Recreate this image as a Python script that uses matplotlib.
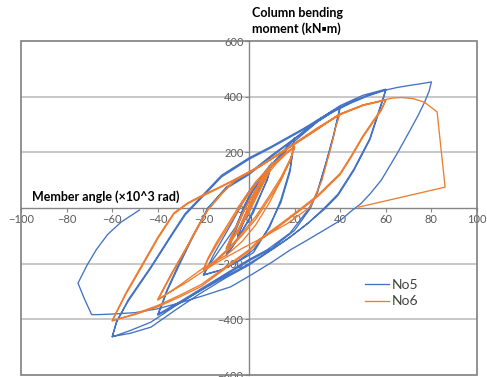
import matplotlib
matplotlib.use('Agg')
import matplotlib.pyplot as plt
from matplotlib.patches import Rectangle

plt.rcParams['font.family'] = ['Lato', 'DejaVu Sans']

# member angle (x10^3 rad) / column bending moment (kN*m), specimen No5
no5_x = [0, 3, 5, 3, 1, -2, -5, -3, -1, 2, 5, 3, 0, -3, -5, -2,
         0, 4, 7, 10, 8, 5, 2, -2, -6, -10, -8, -5, -2, 2, 6, 10, 8, 4, 0, -4, -7, -10, -7, -3,
         1, 8, 14, 20, 18, 14, 8, 2, -6, -13, -20,
         -17, -12, -6, 0, 8, 14, 20, 18, 14, 9, 2, -5, -12, -20,
         -15, -8, 0, 10, 20, 30, 40,
         39, 37, 34, 30, 27, 20, 10, 0, -10, -20, -30, -40,
         -38, -36, -31, -25, -18, -10, 0, 10, 20, 30, 40,
         39, 37, 34, 30, 26, 18, 8, 0, -10, -20, -30, -40,
         -38, -36, -31, -25, -18, -10, 0, 10, 20, 30, 40, 50, 60,
         59, 57, 53, 46, 39, 33, 26, 18, 11, 0, -10, -22, -32, -43, -52, -60,
         -58, -53, -43, -34, -28, -21, -12, 0, 10, 24, 36, 45, 52, 60,
         59, 57, 53, 46, 39, 33, 25, 17, 10, 0, -10, -22, -32, -43, -52, -60,
         -58, -53, -43, -34, -28, -21, -12, 0, 10, 24, 36, 45, 52, 60, 65, 70, 75, 80,
         79, 77, 74, 70, 65, 58, 53, 49, 45, 40, 33, 25, 18, 10, 0, -8, -20, -30, -40, -50, -60, -66, -69,
         -72, -75, -71, -67, -62, -56, -48]
no5_y = [0, 48, 85, 45, 0, -45, -100, -55, -10, 35, 88, 40, -5, -60, -102, -40,
         0, 60, 110, 160, 105, 45, -15, -70, -125, -172, -120, -55, 10, 70, 120, 162, 100, 30, -40, -95, -135, -170, -105, -25,
         54, 137, 195, 252, 130, 20, -79, -160, -198, -225, -241,
         -200, -140, -70, 40, 137, 192, 250, 140, 30, -70, -150, -192, -222, -240,
         -160, -60, 60, 150, 240, 310, 365,
         330, 260, 170, 60, 0, -80, -145, -190, -240, -290, -340, -385,
         -345, -300, -212, -110, 0, 70, 120, 185, 248, 310, 362,
         325, 255, 165, 55, -5, -90, -150, -185, -235, -285, -335, -382,
         -340, -295, -205, -105, 0, 75, 125, 190, 250, 315, 368, 405, 427,
         400, 350, 250, 140, 50, 0, -54, -105, -144, -200, -245, -300, -350, -410, -440, -463,
         -410, -330, -211, -95, -20, 40, 118, 180, 222, 286, 346, 382, 405, 425,
         395, 345, 245, 135, 45, -5, -60, -110, -150, -205, -250, -310, -365, -428, -450, -462,
         -405, -335, -215, -100, -25, 35, 112, 175, 218, 282, 342, 378, 402, 424, 433, 440, 446, 453,
         420, 380, 330, 270, 196, 100, 50, 15, -10, -45, -79, -118, -151, -195, -245, -283, -315, -340, -362, -376, -381, -383, -383,
         -330, -270, -205, -150, -95, -50, -7]

# specimen No6
no6_x = [0, 3, 5, 3, 0, -3, -5, -3, 0, 3, 5, 2, 0, -3, -5, -2,
         0, 5, 10, 8, 4, 0, -5, -10, -8, -4, 0, 5, 10, 7, 3, 0, -5, -10, -7, -3,
         0, 6, 12, 17, 20, 18, 14, 9, 3, -3, -9, -15, -20,
         -18, -14, -9, -3, 3, 10, 16, 20, 18, 14, 9, 3, -3, -9, -15, -20,
         -18, -14, -9, -3, 3, 10, 16, 20, 18, 14, 9, 3, -3, -10, -20, -30, -40,
         -34, -27, -22, -18, -12, -6, 5, 18, 30, 40,
         38, 36, 32, 27, 17, 4, -3, -15, -28, -40,
         -34, -27, -22, -18, -12, -6, 5, 18, 30, 40, 50, 60,
         58, 55, 50, 45, 40, 30, 23, 15, 5, 0, -10, -21, -30, -40, -50, -60,
         -54, -47, -40, -33, -27, -21, -13, -6, 5, 18, 30, 40, 50, 60,
         58, 55, 50, 45, 40, 30, 23, 15, 5, 0, -10, -21, -30, -40, -50, -60,
         -54, -47, -40, -33, -27, -21, -13, -6, 5, 18, 30, 40, 50, 60, 63, 67, 72, 77, 82.5, 86, 48]
no6_y = [0, 55, 95, 50, -5, -55, -92, -45, 5, 58, 98, 40, 0, -52, -90, -35,
         10, 85, 158, 115, 50, -15, -85, -148, -105, -40, 25, 95, 160, 105, 40, -10, -80, -145, -95, -25,
         25, 100, 160, 200, 219, 175, 110, 45, -30, -90, -145, -190, -222,
         -185, -130, -65, 15, 85, 150, 195, 218, 170, 100, 35, -40, -98, -150, -195, -220,
         -180, -120, -55, 25, 95, 155, 198, 220, 170, 100, 20, -60, -120, -170, -215, -275, -331,
         -240, -139, -65, -7, 50, 100, 150, 218, 282, 340,
         290, 220, 100, 5, -55, -115, -145, -200, -270, -328,
         -235, -135, -60, -5, 52, 102, 152, 220, 285, 338, 370, 388,
         355, 320, 260, 190, 125, 45, 0, -50, -110, -150, -210, -275, -312, -350, -380, -406,
         -310, -211, -110, -22, 15, 40, 72, 101, 150, 220, 285, 335, 368, 388,
         350, 315, 255, 185, 120, 40, -5, -55, -115, -155, -215, -282, -318, -355, -383, -404,
         -305, -205, -105, -18, 18, 44, 75, 104, 152, 222, 288, 338, 370, 390, 395, 397, 393, 380, 345, 75, 3]

fig = plt.figure(figsize=(4.87, 3.77), dpi=100)
ax = fig.add_axes([0.0431, 0.0053, 0.9364, 0.8859])

ax.plot(no5_x, no5_y, color='#4472C4', lw=0.95, label='No5', zorder=3)
ax.plot(no6_x, no6_y, color='#ED7D31', lw=0.95, label='No6', zorder=3)

ax.set_xlim(-100, 100)
ax.set_ylim(-600, 600)
ax.set_xticks(range(-100, 101, 20))
ax.set_yticks(range(-600, 601, 200))
for yv in (-400, -200, 200, 400):
    ax.axhline(yv, color='#BFBFBF', lw=1.2, zorder=1)

# axes cross at the origin, frame drawn as a box round the plot area
ax.spines['left'].set_position(('data', 0))
ax.spines['bottom'].set_position(('data', 0))
ax.spines['right'].set_visible(False)
ax.spines['top'].set_visible(False)
for s in ('left', 'bottom'):
    ax.spines[s].set_color('#868686')
    ax.spines[s].set_linewidth(1.0)
ax.add_patch(Rectangle((0, 0), 1, 1, transform=ax.transAxes, fill=False,
                       edgecolor='#7F7F7F', lw=1.2, zorder=4, clip_on=False))
ax.tick_params(axis='both', length=3, color='#868686', labelsize=8, labelcolor='#595959', pad=1)
ax.tick_params(axis='x', direction='out')
ax.tick_params(axis='y', direction='out')

fig.text(0.517, 0.982, 'Column bending\nmoment (kN\u25aam)', ha='left', va='top',
         fontsize=9, fontweight='bold', color='black', linespacing=1.3)
ax.text(-95, 40, 'Member angle (\u00d710^3 rad)', ha='left', va='center',
        fontsize=9, fontweight='bold', color='black')

ax.legend(loc='lower left', bbox_to_anchor=(0.727, 0.165), frameon=False, fontsize=10,
          handlelength=1.7, handletextpad=0.2, labelspacing=0.35, labelcolor='#404040')

fig.savefig('out.png', dpi=100)
